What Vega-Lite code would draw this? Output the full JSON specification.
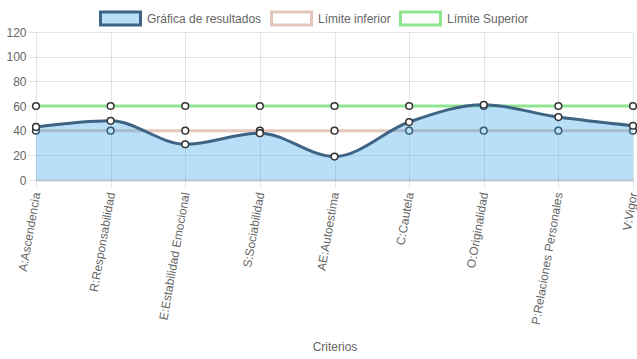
{
  "$schema": "https://vega.github.io/schema/vega-lite/v6.json",
  "autosize": "none",
  "width": 597,
  "height": 148,
  "padding": {"left": 36, "top": 32, "right": 4, "bottom": 179},
  "background": "white",
  "data": {
    "values": [
      {"criterio": "A:Ascendencia", "serie": "Gráfica de resultados", "valor": 43},
      {"criterio": "R:Responsabilidad", "serie": "Gráfica de resultados", "valor": 48},
      {"criterio": "E:Estabilidad Emocional", "serie": "Gráfica de resultados", "valor": 29},
      {"criterio": "S:Sociabilidad", "serie": "Gráfica de resultados", "valor": 38},
      {"criterio": "AE:Autoestima", "serie": "Gráfica de resultados", "valor": 19},
      {"criterio": "C:Cautela", "serie": "Gráfica de resultados", "valor": 47},
      {"criterio": "O:Originalidad", "serie": "Gráfica de resultados", "valor": 61},
      {"criterio": "P:Relaciones Personales", "serie": "Gráfica de resultados", "valor": 51},
      {"criterio": "V:Vigor", "serie": "Gráfica de resultados", "valor": 44},
      {"criterio": "A:Ascendencia", "serie": "Límite inferior", "valor": 40},
      {"criterio": "R:Responsabilidad", "serie": "Límite inferior", "valor": 40},
      {"criterio": "E:Estabilidad Emocional", "serie": "Límite inferior", "valor": 40},
      {"criterio": "S:Sociabilidad", "serie": "Límite inferior", "valor": 40},
      {"criterio": "AE:Autoestima", "serie": "Límite inferior", "valor": 40},
      {"criterio": "C:Cautela", "serie": "Límite inferior", "valor": 40},
      {"criterio": "O:Originalidad", "serie": "Límite inferior", "valor": 40},
      {"criterio": "P:Relaciones Personales", "serie": "Límite inferior", "valor": 40},
      {"criterio": "V:Vigor", "serie": "Límite inferior", "valor": 40},
      {"criterio": "A:Ascendencia", "serie": "Límite Superior", "valor": 60},
      {"criterio": "R:Responsabilidad", "serie": "Límite Superior", "valor": 60},
      {"criterio": "E:Estabilidad Emocional", "serie": "Límite Superior", "valor": 60},
      {"criterio": "S:Sociabilidad", "serie": "Límite Superior", "valor": 60},
      {"criterio": "AE:Autoestima", "serie": "Límite Superior", "valor": 60},
      {"criterio": "C:Cautela", "serie": "Límite Superior", "valor": 60},
      {"criterio": "O:Originalidad", "serie": "Límite Superior", "valor": 60},
      {"criterio": "P:Relaciones Personales", "serie": "Límite Superior", "valor": 60},
      {"criterio": "V:Vigor", "serie": "Límite Superior", "valor": 60}
    ]
  },
  "encoding": {
    "x": {
      "field": "criterio",
      "type": "ordinal",
      "sort": ["A:Ascendencia", "R:Responsabilidad", "E:Estabilidad Emocional", "S:Sociabilidad", "AE:Autoestima", "C:Cautela", "O:Originalidad", "P:Relaciones Personales", "V:Vigor"],
      "scale": {"type": "point", "padding": 0},
      "axis": {
        "title": "Criterios",
        "labelAngle": -80,
        "labelAlign": "right",
        "labelBaseline": "middle",
        "labelPadding": 4,
        "labelLimit": 0,
        "ticks": true,
        "tickSize": 8,
        "tickColor": "rgba(0,0,0,0.1)",
        "grid": true,
        "gridColor": "rgba(0,0,0,0.1)",
        "domain": true,
        "domainColor": "rgba(0,0,0,0.15)",
        "domainWidth": 2,
        "titleY": 166,
        "titleBaseline": "middle"
      }
    },
    "y": {
      "field": "valor",
      "type": "quantitative",
      "scale": {"domain": [0, 120], "nice": false},
      "axis": {
        "title": null,
        "values": [0, 20, 40, 60, 80, 100, 120],
        "grid": true,
        "gridColor": "rgba(0,0,0,0.1)",
        "domain": false,
        "ticks": true,
        "tickSize": 8,
        "tickColor": "rgba(0,0,0,0.1)",
        "labelPadding": 2
      }
    }
  },
  "layer": [
    {
      "transform": [{"filter": "datum.serie !== 'Gráfica de resultados'"}],
      "mark": {"type": "line", "strokeWidth": 3, "interpolate": "linear"},
      "encoding": {
        "stroke": {
          "field": "serie",
          "type": "nominal",
          "scale": {
            "domain": ["Gráfica de resultados", "Límite inferior", "Límite Superior"],
            "range": ["#3e6485", "#e4c7bb", "#8fe58f"]
          },
          "legend": {
            "title": null,
            "orient": "none",
            "direction": "horizontal",
            "legendX": 63,
            "legendY": -35,
            "symbolType": "M-1,-0.325H1V0.325H-1Z",
            "symbolSize": 1600,
            "symbolStrokeWidth": 3,
            "labelOffset": 5,
            "columnPadding": 3
          }
        }
      }
    },
    {
      "transform": [{"filter": "datum.serie !== 'Gráfica de resultados'"}],
      "mark": {"type": "point", "filled": true, "fill": "white", "stroke": "#333", "strokeWidth": 1.5, "size": 45, "opacity": 1}
    },
    {
      "transform": [{"filter": "datum.serie === 'Gráfica de resultados'"}],
      "mark": {"type": "area", "interpolate": "monotone"},
      "encoding": {
        "fill": {
          "field": "serie",
          "type": "nominal",
          "scale": {
            "domain": ["Gráfica de resultados", "Límite inferior", "Límite Superior"],
            "range": ["rgba(54,162,235,0.35)", "rgba(255,255,255,0)", "rgba(255,255,255,0)"]
          },
          "legend": {
            "title": null,
            "orient": "none",
            "direction": "horizontal",
            "legendX": 63,
            "legendY": -35,
            "symbolType": "M-1,-0.325H1V0.325H-1Z",
            "symbolSize": 1600,
            "symbolStrokeWidth": 3,
            "labelOffset": 5,
            "columnPadding": 3
          }
        }
      }
    },
    {
      "transform": [{"filter": "datum.serie === 'Gráfica de resultados'"}],
      "mark": {"type": "line", "strokeWidth": 3, "interpolate": "monotone"},
      "encoding": {
        "stroke": {"field": "serie", "type": "nominal"}
      }
    },
    {
      "transform": [{"filter": "datum.serie === 'Gráfica de resultados'"}],
      "mark": {"type": "point", "filled": true, "fill": "white", "stroke": "#333", "strokeWidth": 1.5, "size": 45, "opacity": 1}
    }
  ],
  "config": {
    "view": {"stroke": null},
    "font": "Liberation Sans",
    "axis": {
      "labelFont": "Liberation Sans",
      "labelFontSize": 12,
      "labelColor": "#666",
      "titleFont": "Liberation Sans",
      "titleFontSize": 12,
      "titleColor": "#666",
      "titleFontWeight": "normal"
    },
    "legend": {
      "labelFont": "Liberation Sans",
      "labelFontSize": 12,
      "labelColor": "#666"
    }
  }
}
